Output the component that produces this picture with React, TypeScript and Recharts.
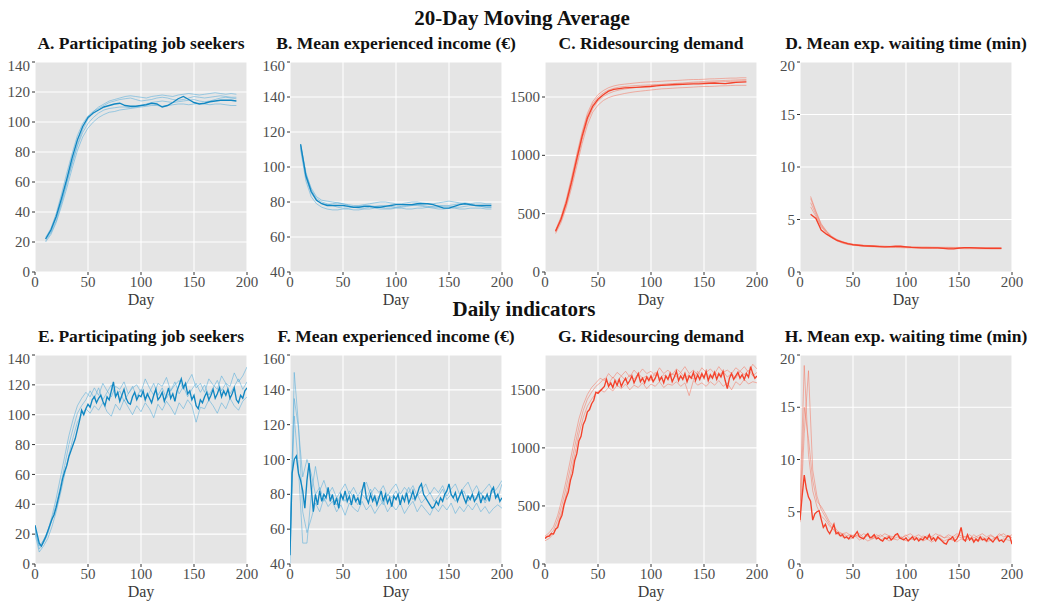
import { LineChart, Line, XAxis, YAxis, CartesianGrid } from 'recharts'

const SERIF = '"Liberation Serif", "Times New Roman", Times, serif'
const BLUE = '#1187c2'
const BLUE_FAINT = '#55addb'
const RED = '#f4412a'
const RED_FAINT = '#f47a66'

const X_TICKS = [0, 50, 100, 150, 200]

// 20-day moving average, days 10..190
const maDays = [
  10, 15, 20, 25, 30, 35, 40, 45, 50, 55,
  60, 65, 70, 75, 80, 85, 90, 95, 100, 105,
  110, 115, 120, 125, 130, 135, 140, 145, 150, 155,
  160, 165, 170, 175, 180, 185, 190,
]

// daily indicators
const dayMain = [
  0, 2, 4, 6, 8, 10, 12, 14, 16, 18,
  20, 22, 24, 26, 28, 30, 32, 34, 36, 38,
  40, 42, 44, 46, 48, 50, 52, 54, 56, 58,
  60, 62, 64, 66, 68, 70, 72, 74, 76, 78,
  80, 82, 84, 86, 88, 90, 92, 94, 96, 98,
  100, 102, 104, 106, 108, 110, 112, 114, 116, 118,
  120, 122, 124, 126, 128, 130, 132, 134, 136, 138,
  140, 142, 144, 146, 148, 150, 152, 154, 156, 158,
  160, 162, 164, 166, 168, 170, 172, 174, 176, 178,
  180, 182, 184, 186, 188, 190, 192, 194, 196, 198,
  200,
]
const dayRuns = [
  0, 4, 8, 12, 16, 20, 24, 28, 32, 36,
  40, 44, 48, 52, 56, 60, 64, 68, 72, 76,
  80, 84, 88, 92, 96, 100, 104, 108, 112, 116,
  120, 124, 128, 132, 136, 140, 144, 148, 152, 156,
  160, 164, 168, 172, 176, 180, 184, 188, 192, 196,
  200,
]

// A. participating job seekers (MA)
const aMain = [
  22, 28, 37, 49, 62, 76, 88, 97, 103, 106,
  108, 110, 111, 112, 112.5, 111, 110.5, 110.5, 111, 111.5,
  112.5, 112, 110, 111, 113, 115.5, 117, 115, 113, 112,
  112.5, 113.5, 114, 114.5, 114.5, 114.5, 114,
]
const aRuns = [
  [21, 26, 34, 46, 59, 73, 85, 95, 102, 107, 110, 112, 114, 115, 116, 117, 117.5, 117, 116.5, 116, 117, 117.5, 118, 117.5, 117, 118, 118.5, 119, 118.5, 118, 118.5, 119, 119.5, 119, 118.5, 119, 118.5],
  [20, 25, 33, 44, 56, 69, 81, 90, 96, 100, 103, 105, 106.5, 107, 108, 108.5, 109, 109.5, 110, 110.5, 111, 111, 110.5, 111, 111.5, 112, 112, 111.5, 112, 112.5, 112, 111.5, 112, 112, 111.5, 111, 111],
  [23, 29, 39, 52, 66, 79, 91, 99, 104, 107, 109, 111, 113, 114, 115, 115.5, 116, 115, 114, 114.5, 115, 116, 116.5, 116, 115, 114.5, 115, 116, 117, 116.5, 116, 116.5, 117, 117.5, 117, 116.5, 116.5],
  [22, 27, 36, 47, 60, 72, 84, 93, 99, 103, 106, 108, 109, 109.5, 110, 110, 109.5, 110, 111, 112, 113, 113.5, 114, 113.5, 113, 113.5, 114, 114.5, 115, 114, 113.5, 114, 115, 116, 116.5, 116, 115.5],
]

// B. mean experienced income (MA)
const bMain = [
  113, 95, 86, 81, 79, 78, 78, 78, 78, 77.5,
  77, 77, 77.5, 77.5, 77, 77, 77.5, 78, 78.5, 78.5,
  78.5, 78.5, 79, 79, 79, 78.5, 77.5, 76.5, 76.5, 77.5,
  78.5, 79, 78.5, 78, 78, 78, 78,
]
const bRuns = [
  [112, 96, 88, 83, 81, 80.5, 80, 79.5, 79, 78.5, 78, 78, 78.5, 79, 79.5, 80, 80, 79.5, 79, 79, 79.5, 80, 80, 79.5, 79, 79, 79.5, 80, 80.5, 80, 79.5, 79, 79, 79.5, 79.5, 79, 79],
  [110, 92, 83, 79, 77, 76, 75.5, 75.5, 76, 76, 75.5, 75.5, 76, 76, 76.5, 76, 76, 76, 76.5, 76.5, 76, 76, 76.5, 76.5, 77, 76.5, 76, 76, 76.5, 76.5, 76, 76, 76.5, 76.5, 76.5, 76, 76],
  [111, 94, 85, 81, 79, 78.5, 79, 79.5, 79, 78, 77, 76.5, 76.5, 77, 77.5, 78, 78, 77.5, 77, 77, 77.5, 78, 78, 77.5, 77, 77.5, 78, 78, 77.5, 77, 77, 77.5, 78, 78, 77.5, 77, 77],
  [113, 97, 87, 82, 80, 79, 78, 77, 76.5, 76.5, 77, 77.5, 78, 78, 77.5, 77, 76.5, 76.5, 77, 77.5, 78, 78, 78.5, 78, 77.5, 77, 77, 77.5, 78, 78.5, 79, 79.5, 79, 78, 77.5, 77, 77],
]

// C. ridesourcing demand (MA)
const cMain = [
  350, 450, 590, 770, 970, 1160, 1320, 1420, 1480, 1520,
  1550, 1565, 1572, 1578, 1580, 1582, 1585, 1588, 1590, 1595,
  1600, 1602, 1605, 1607, 1608, 1610, 1612, 1612, 1615, 1618,
  1620, 1617, 1615, 1620, 1625, 1628, 1630,
]
const cRuns = [
  [360, 470, 620, 810, 1010, 1200, 1360, 1460, 1520, 1555, 1580, 1595, 1605, 1610, 1615, 1620, 1625, 1628, 1630, 1632, 1635, 1638, 1640, 1642, 1645, 1648, 1650, 1650, 1652, 1655, 1656, 1658, 1660, 1662, 1662, 1665, 1665],
  [330, 420, 550, 720, 910, 1100, 1260, 1370, 1430, 1470, 1495, 1510, 1520, 1530, 1538, 1545, 1550, 1555, 1560, 1565, 1570, 1572, 1575, 1578, 1580, 1582, 1585, 1588, 1590, 1590, 1592, 1595, 1596, 1598, 1600, 1600, 1600],
  [345, 440, 575, 750, 945, 1135, 1295, 1400, 1465, 1505, 1530, 1548, 1560, 1568, 1575, 1580, 1586, 1592, 1598, 1602, 1606, 1610, 1614, 1618, 1620, 1624, 1628, 1630, 1633, 1636, 1638, 1640, 1642, 1644, 1646, 1648, 1650],
  [355, 460, 605, 790, 990, 1180, 1340, 1440, 1500, 1535, 1560, 1575, 1585, 1590, 1594, 1598, 1600, 1602, 1604, 1606, 1608, 1610, 1612, 1614, 1616, 1618, 1620, 1622, 1624, 1626, 1628, 1630, 1632, 1634, 1636, 1638, 1640],
]

// D. mean exp. waiting time (MA)
const dMain = [
  5.5, 5.1, 4.0, 3.6, 3.3, 3.0, 2.85, 2.7, 2.6, 2.55,
  2.5, 2.48, 2.45, 2.42, 2.4, 2.42, 2.45, 2.45, 2.4, 2.35,
  2.32, 2.3, 2.3, 2.3, 2.3, 2.25, 2.2, 2.2, 2.28, 2.32,
  2.32, 2.3, 2.28, 2.25, 2.25, 2.25, 2.25,
]
const dRuns = [
  [7.2, 5.8, 4.6, 3.9, 3.4, 3.1, 2.9, 2.75, 2.65, 2.6, 2.55, 2.52, 2.5, 2.48, 2.45, 2.44, 2.42, 2.4, 2.38, 2.38, 2.36, 2.35, 2.35, 2.34, 2.33, 2.32, 2.32, 2.32, 2.3, 2.3, 2.3, 2.3, 2.3, 2.3, 2.28, 2.28, 2.28],
  [6.6, 5.5, 4.4, 3.8, 3.3, 3.0, 2.8, 2.65, 2.55, 2.5, 2.45, 2.42, 2.4, 2.38, 2.36, 2.35, 2.33, 2.32, 2.3, 2.3, 2.28, 2.27, 2.26, 2.25, 2.25, 2.24, 2.24, 2.23, 2.23, 2.22, 2.22, 2.22, 2.21, 2.21, 2.2, 2.2, 2.2],
  [6.2, 5.3, 4.3, 3.7, 3.25, 2.95, 2.75, 2.62, 2.55, 2.52, 2.5, 2.48, 2.46, 2.45, 2.44, 2.43, 2.42, 2.41, 2.4, 2.39, 2.38, 2.37, 2.37, 2.36, 2.36, 2.35, 2.35, 2.34, 2.34, 2.33, 2.33, 2.33, 2.32, 2.32, 2.32, 2.32, 2.31],
  [7.0, 5.7, 4.5, 3.85, 3.35, 3.05, 2.85, 2.7, 2.6, 2.55, 2.5, 2.47, 2.44, 2.42, 2.4, 2.38, 2.37, 2.36, 2.35, 2.34, 2.33, 2.32, 2.31, 2.31, 2.3, 2.3, 2.3, 2.29, 2.29, 2.28, 2.28, 2.28, 2.27, 2.27, 2.27, 2.26, 2.26],
]

// E. participating job seekers (daily)
const eMain = [
  26, 20, 14, 12, 15, 18, 22, 26, 30, 33,
  38, 44, 50, 57, 62, 66, 72, 76, 80, 84,
  90, 96, 103, 100, 104, 107, 105, 110, 112, 108,
  111, 113, 109, 106, 112, 110, 116, 122, 112, 115,
  109, 113, 117, 111, 108, 107, 112, 115, 110, 113,
  112, 116, 110, 114, 111, 108, 113, 117, 110, 112,
  115, 109, 113, 118, 111, 114, 109, 116, 120, 124,
  118, 121, 114, 116, 110, 113, 106, 104, 110, 108,
  112, 115, 110, 113, 117, 111, 114, 118, 112, 116,
  113, 117, 111, 114, 118, 110, 108, 113, 111, 116,
  118,
]
const eRuns = [
  [22, 12, 16, 22, 32, 44, 58, 72, 86, 97, 106, 111, 115, 112, 118, 113, 121, 116, 112, 119, 117, 122, 114, 118, 120, 115, 124, 118, 113, 121, 119, 125, 116, 120, 123, 117, 122, 127, 118, 121, 115, 124, 120, 117, 126, 121, 119, 128, 122, 126, 132],
  [20, 8, 12, 17, 25, 35, 47, 60, 73, 85, 95, 100, 104, 101, 106, 103, 108, 102, 99, 107, 103, 110, 105, 100, 106, 102, 108, 104, 98, 107, 103, 109, 105, 100, 108, 104, 110, 106, 95, 105, 104, 110, 106, 101, 108, 104, 111, 106, 103, 109, 112],
  [24, 10, 14, 20, 30, 40, 52, 66, 80, 91, 101, 106, 110, 116, 111, 118, 110, 115, 120, 112, 116, 109, 114, 119, 112, 117, 110, 115, 121, 113, 118, 111, 116, 122, 114, 119, 112, 117, 121, 115, 120, 113, 118, 123, 116, 121, 114, 119, 124, 117, 122],
]

// F. mean experienced income (daily)
const fMain = [
  45, 92, 100, 102, 92, 88, 82, 72, 88, 98,
  84, 70, 80, 74, 82, 76, 80, 78, 84, 76,
  80, 74, 78, 72, 80, 77, 82, 76, 79, 74,
  80, 76, 78, 74, 82, 87, 78, 75, 80, 76,
  79, 74, 78, 82, 76, 80, 75, 78, 73, 79,
  77, 80, 74, 79, 76, 81, 75, 78, 82, 77,
  80, 84, 86, 80, 78, 76, 74, 72, 73, 76,
  74, 78, 76, 80, 82, 86, 80, 78, 81, 76,
  79, 82, 78, 75, 79, 77, 80, 76, 78, 81,
  75, 79, 77, 80, 76, 82, 84, 78, 80, 76,
  78,
]
const fRuns = [
  [60, 135, 118, 90, 100, 92, 80, 84, 76, 82, 78, 74, 80, 76, 82, 78, 74, 80, 77, 83, 76, 79, 74, 80, 78, 82, 76, 79, 84, 77, 80, 75, 78, 81, 76, 79, 83, 77, 80, 76, 79, 82, 76, 80, 77, 81, 75, 79, 82, 78, 86],
  [40, 150, 120, 70, 58, 66, 75, 70, 78, 73, 76, 70, 74, 68, 75, 72, 70, 76, 71, 74, 69, 73, 76, 70, 74, 71, 75, 69, 73, 76, 70, 74, 71, 68, 73, 70, 74, 71, 75, 69, 73, 70, 74, 71, 75, 70, 73, 69, 72, 74, 72],
  [50, 125, 95, 52, 52, 80, 96, 82, 88, 80, 84, 78, 82, 86, 80, 84, 79, 83, 87, 80, 84, 81, 85, 79, 83, 86, 80, 84, 81, 85, 79, 82, 86, 80, 84, 81, 85, 79, 83, 86, 80, 84, 87, 81, 85, 80, 83, 86, 81, 84, 88],
]

// G. ridesourcing demand (daily)
const gMain = [
  220, 235, 240, 262, 258, 300, 315, 380, 420, 510,
  570, 620, 720, 780, 890, 950, 1060, 1100, 1200, 1240,
  1310, 1330, 1380, 1410, 1480, 1470, 1490, 1510, 1530, 1590,
  1530, 1560, 1520, 1580, 1540, 1590, 1530, 1570, 1600, 1550,
  1580, 1620, 1560, 1600, 1640, 1570, 1600, 1560, 1610, 1580,
  1620, 1570, 1600, 1650, 1580, 1610, 1560, 1620, 1590, 1640,
  1570, 1610, 1660, 1580, 1620, 1590, 1640, 1570, 1620, 1600,
  1650, 1580, 1630, 1590, 1640, 1600, 1660, 1580, 1630, 1600,
  1650, 1590, 1640, 1610, 1660, 1580, 1510, 1600, 1640, 1590,
  1620, 1650, 1600, 1630, 1590, 1640, 1610, 1700, 1640, 1600,
  1620,
]
const gRuns = [
  [240, 270, 320, 420, 560, 720, 900, 1080, 1250, 1370, 1460, 1520, 1560, 1600, 1580, 1640, 1600, 1650, 1620, 1660, 1610, 1670, 1630, 1680, 1640, 1660, 1620, 1690, 1640, 1670, 1630, 1680, 1650, 1700, 1640, 1670, 1630, 1690, 1650, 1680, 1640, 1700, 1650, 1670, 1640, 1690, 1660, 1700, 1650, 1720, 1680],
  [200, 220, 260, 340, 460, 600, 760, 940, 1120, 1260, 1360, 1420, 1470, 1500, 1480, 1520, 1490, 1540, 1510, 1550, 1500, 1540, 1520, 1560, 1510, 1550, 1530, 1570, 1520, 1550, 1540, 1570, 1530, 1560, 1450, 1580, 1540, 1560, 1530, 1570, 1540, 1580, 1530, 1560, 1500, 1570, 1540, 1590, 1550, 1570, 1560],
  [230, 250, 290, 380, 510, 660, 830, 1010, 1180, 1320, 1420, 1480, 1530, 1560, 1600, 1550, 1610, 1570, 1620, 1580, 1630, 1590, 1640, 1600, 1620, 1580, 1650, 1600, 1630, 1590, 1640, 1610, 1650, 1600, 1630, 1590, 1660, 1610, 1640, 1600, 1650, 1620, 1660, 1610, 1640, 1600, 1660, 1630, 1670, 1620, 1650],
]

// H. mean exp. waiting time (daily)
const hMain = [
  4.2, 6.5, 8.5, 7.2, 6.4, 6.0, 4.2, 4.8, 5.0, 5.1,
  4.3, 3.5, 3.8, 3.2, 2.9, 3.3, 3.8, 2.9, 3.0, 2.7,
  2.8, 2.5, 2.6, 2.4, 2.7, 2.5, 2.8, 3.1, 2.6, 2.5,
  2.4, 2.7, 2.9, 2.5, 2.6, 2.8, 2.4, 2.5, 2.3, 2.2,
  2.5, 2.4, 2.6, 2.3, 2.5, 2.8, 2.9, 2.5, 2.4, 2.3,
  2.5, 2.2, 2.4, 2.6, 2.3, 2.5, 2.2, 2.4, 2.3, 2.6,
  2.4, 2.8, 2.3, 2.5, 2.2, 2.6, 2.4, 2.2, 2.0, 1.9,
  2.3, 2.4, 2.6, 2.2, 2.4, 2.8, 3.5, 2.4, 2.2, 2.8,
  2.3, 2.5, 2.1, 2.4, 2.2, 2.6, 2.3, 2.4, 2.2, 2.5,
  2.3, 2.1, 2.4, 2.6, 2.2, 2.3, 2.1, 2.4, 2.7, 2.6,
  1.9,
]
const hRuns = [
  [6.0, 19.0, 10.5, 7.0, 5.5, 4.6, 4.2, 3.6, 3.3, 3.0, 2.9, 2.7, 2.8, 2.6, 2.9, 2.5, 2.7, 2.4, 2.6, 2.8, 2.5, 2.7, 2.4, 2.6, 2.5, 2.8, 2.4, 2.6, 2.3, 2.7, 2.5, 2.6, 2.4, 2.8, 2.5, 2.6, 2.3, 2.7, 2.5, 2.6, 2.4, 2.8, 2.5, 2.6, 2.4, 2.7, 2.5, 2.9, 2.6, 2.7, 2.5],
  [4.0, 12.5, 18.5, 9.0, 6.5, 5.2, 4.5, 3.8, 3.2, 2.8, 2.6, 2.5, 2.4, 2.7, 2.3, 2.5, 2.2, 2.4, 2.6, 2.3, 2.5, 2.2, 2.4, 2.3, 2.6, 2.2, 2.4, 2.3, 2.5, 2.2, 2.4, 2.1, 2.3, 2.5, 2.2, 2.4, 2.3, 2.1, 2.4, 2.2, 2.5, 2.3, 2.2, 2.4, 2.1, 2.3, 2.5, 2.2, 2.4, 2.3, 2.2],
  [5.0, 15.0, 12.0, 8.0, 6.0, 5.5, 4.8, 4.0, 3.6, 3.1, 2.9, 3.0, 2.7, 2.8, 2.6, 2.9, 2.7, 2.5, 2.8, 2.6, 2.9, 2.7, 2.6, 2.8, 2.5, 2.7, 2.9, 2.6, 2.8, 2.5, 2.7, 2.6, 2.9, 2.7, 2.5, 2.8, 2.6, 2.9, 2.7, 2.6, 2.8, 2.5, 2.7, 2.9, 2.6, 2.8, 2.5, 2.7, 2.9, 2.6, 2.8],
]

const pts = (days: number[], vals: number[]) => days.map((d, i) => ({ day: d, v: vals[i] }))

const PLOT_W = 212
const YW = 40
const MT = 5
const MR = 14
const XH = 42
const TICK_FILL = '#4d4d4d'

function XTick(props: any) {
  const { x, y, payload } = props
  return (
    <text x={x} y={y} dy="0.75em" textAnchor="middle" fontFamily={SERIF} fontSize={15} fill={TICK_FILL}>
      {payload.value}
    </text>
  )
}

function YTick(props: any) {
  const { x, y, payload } = props
  return (
    <text x={x} y={y} dy="0.34em" textAnchor="end" fontFamily={SERIF} fontSize={15} fill={TICK_FILL}>
      {payload.value}
    </text>
  )
}

type PanelProps = {
  left: number
  top: number
  h: number
  yDomain: [number, number]
  yTicks: number[]
  mainDays: number[]
  main: number[]
  runDays: number[]
  runs: number[][]
  color: string
  faint: string
}

function Panel(p: PanelProps) {
  return (
    <div style={{ position: 'absolute', left: p.left - YW, top: p.top - MT, fontFamily: SERIF }}>
      <LineChart
        width={YW + PLOT_W + MR}
        height={MT + p.h + XH}
        margin={{ top: MT, right: MR, bottom: 0, left: 0 }}
      >
        <CartesianGrid fill="#e5e5e5" stroke="#ffffff" strokeWidth={1.1} />
        <XAxis
          type="number"
          dataKey="day"
          domain={[0, 200]}
          ticks={X_TICKS}
          allowDataOverflow
          axisLine={false}
          tickLine={{ stroke: '#333' }}
          tickSize={3}
          tickMargin={1}
          tick={<XTick />}
          height={XH}
          label={{ value: 'Day', position: 'insideBottom', offset: 9, fill: '#3a3a3a', fontSize: 16, fontFamily: SERIF }}
        />
        <YAxis
          type="number"
          domain={p.yDomain}
          ticks={p.yTicks}
          allowDataOverflow
          axisLine={false}
          tickLine={{ stroke: '#333' }}
          tickSize={3}
          tickMargin={2}
          tick={<YTick />}
          width={YW}
        />
        {p.runs.map((r, i) => (
          <Line
            key={i}
            data={pts(p.runDays, r)}
            dataKey="v"
            type="linear"
            dot={false}
            stroke={p.faint}
            strokeOpacity={0.55}
            strokeWidth={1}
            isAnimationActive={false}
          />
        ))}
        <Line
          data={pts(p.mainDays, p.main)}
          dataKey="v"
          type="linear"
          dot={false}
          stroke={p.color}
          strokeWidth={1.35}
          isAnimationActive={false}
        />
      </LineChart>
    </div>
  )
}

const TOP = 62
const BOT = 355
const COLS = [35, 290, 545, 800]

const panelTitles = [
  'A. Participating job seekers',
  'B. Mean experienced income (€)',
  'C. Ridesourcing demand',
  'D. Mean exp. waiting time (min)',
  'E. Participating job seekers',
  'F. Mean experienced income (€)',
  'G. Ridesourcing demand',
  'H. Mean exp. waiting time (min)',
]

export default function App() {
  const jobTicks = [0, 20, 40, 60, 80, 100, 120, 140]
  const incTicks = [40, 60, 80, 100, 120, 140, 160]
  const demTicks = [0, 500, 1000, 1500]
  const waitTicks = [0, 5, 10, 15, 20]
  return (
    <div style={{ position: 'absolute', left: 0, top: 0, width: 1041, height: 605, background: '#fff', overflow: 'hidden', fontFamily: SERIF }}>
      <Panel left={COLS[0]} top={TOP} h={210} yDomain={[0, 140]} yTicks={jobTicks} mainDays={maDays} main={aMain} runDays={maDays} runs={aRuns} color={BLUE} faint={BLUE_FAINT} />
      <Panel left={COLS[1]} top={TOP} h={210} yDomain={[40, 160]} yTicks={incTicks} mainDays={maDays} main={bMain} runDays={maDays} runs={bRuns} color={BLUE} faint={BLUE_FAINT} />
      <Panel left={COLS[2]} top={TOP} h={210} yDomain={[0, 1800]} yTicks={demTicks} mainDays={maDays} main={cMain} runDays={maDays} runs={cRuns} color={RED} faint={RED_FAINT} />
      <Panel left={COLS[3]} top={TOP} h={210} yDomain={[0, 20]} yTicks={waitTicks} mainDays={maDays} main={dMain} runDays={maDays} runs={dRuns} color={RED} faint={RED_FAINT} />
      <Panel left={COLS[0]} top={BOT} h={209} yDomain={[0, 140]} yTicks={jobTicks} mainDays={dayMain} main={eMain} runDays={dayRuns} runs={eRuns} color={BLUE} faint={BLUE_FAINT} />
      <Panel left={COLS[1]} top={BOT} h={209} yDomain={[40, 160]} yTicks={incTicks} mainDays={dayMain} main={fMain} runDays={dayRuns} runs={fRuns} color={BLUE} faint={BLUE_FAINT} />
      <Panel left={COLS[2]} top={BOT} h={209} yDomain={[0, 1800]} yTicks={demTicks} mainDays={dayMain} main={gMain} runDays={dayRuns} runs={gRuns} color={RED} faint={RED_FAINT} />
      <Panel left={COLS[3]} top={BOT} h={209} yDomain={[0, 20]} yTicks={waitTicks} mainDays={dayMain} main={hMain} runDays={dayRuns} runs={hRuns} color={RED} faint={RED_FAINT} />
      <svg width={1041} height={605} style={{ position: 'absolute', left: 0, top: 0, pointerEvents: 'none' }}>
        <g fontFamily={SERIF} fontWeight="bold" fill="#111" textAnchor="middle">
          <text x={522} y={25} fontSize={21}>20-Day Moving Average</text>
          <text x={524} y={316} fontSize={21}>Daily indicators</text>
          {panelTitles.map((t, i) => (
            <text key={t + i} x={COLS[i % 4] + PLOT_W / 2} y={i < 4 ? 49 : 342} fontSize={17.5}>
              {t}
            </text>
          ))}
        </g>
      </svg>
    </div>
  )
}
